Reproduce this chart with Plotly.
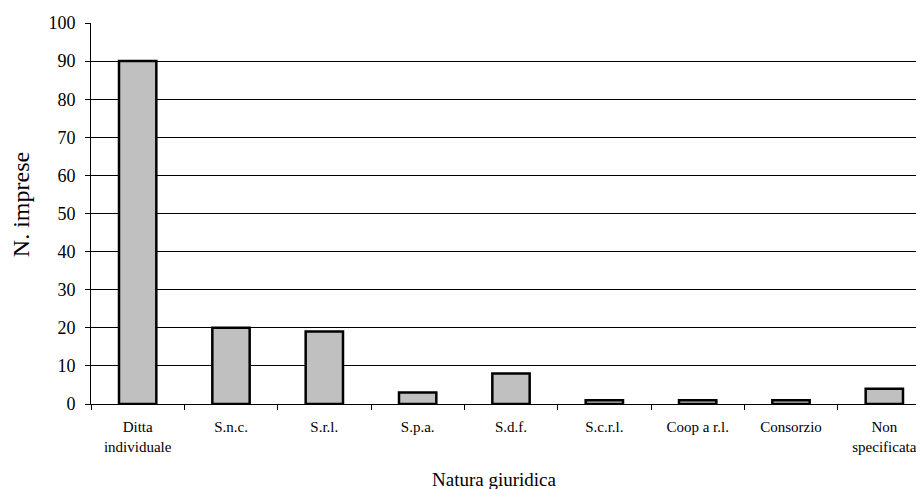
import plotly.graph_objects as go

categories = ["Ditta<br>individuale", "S.n.c.", "S.r.l.", "S.p.a.", "S.d.f.",
              "S.c.r.l.", "Coop a r.l.", "Consorzio", "Non<br>specificata"]
values = [90, 20, 19, 3, 8, 1, 1, 1, 4]
y_ticks = list(range(0, 101, 10))

FONT = "Liberation Serif, Times New Roman, serif"

fig = go.Figure()
fig.add_trace(go.Bar(
    x=categories, y=values, width=0.4,
    marker=dict(color="#c0c0c0", line=dict(color="black", width=2.5)),
    showlegend=False, hoverinfo="x+y",
))

fig.update_layout(
    width=924, height=489,
    margin=dict(l=83, r=1, t=15, b=93),
    paper_bgcolor="white", plot_bgcolor="white",
    font=dict(family=FONT, color="black"),
    bargap=0.6,
)
fig.update_xaxes(
    type="category", range=[-0.5, 8.5],
    showline=True, linecolor="black", linewidth=1,
    ticks="outside", ticklen=5, tickcolor="black", tickson="boundaries",
    tickfont=dict(size=15, family=FONT), showgrid=False,
    ticklabelstandoff=9,
)
fig.update_yaxes(
    range=[0, 100], tickvals=y_ticks,
    showline=True, linecolor="black", linewidth=1,
    ticks="outside", ticklen=5, tickcolor="black",
    showgrid=True, gridcolor="black", gridwidth=1,
    zeroline=True, zerolinecolor="black", zerolinewidth=1,
    tickfont=dict(size=18, family=FONT),
    ticklabelstandoff=6,
)
fig.add_annotation(text="Natura giuridica", xref="paper", yref="paper",
                   x=0.48, y=-0.197, xanchor="center", yanchor="middle",
                   showarrow=False, font=dict(size=19, family=FONT))
fig.add_annotation(text="N. imprese", xref="paper", yref="paper",
                   x=-0.0833, y=0.522, xanchor="center", yanchor="middle",
                   textangle=-90, showarrow=False, font=dict(size=24, family=FONT))

fig.write_html("out.html")
